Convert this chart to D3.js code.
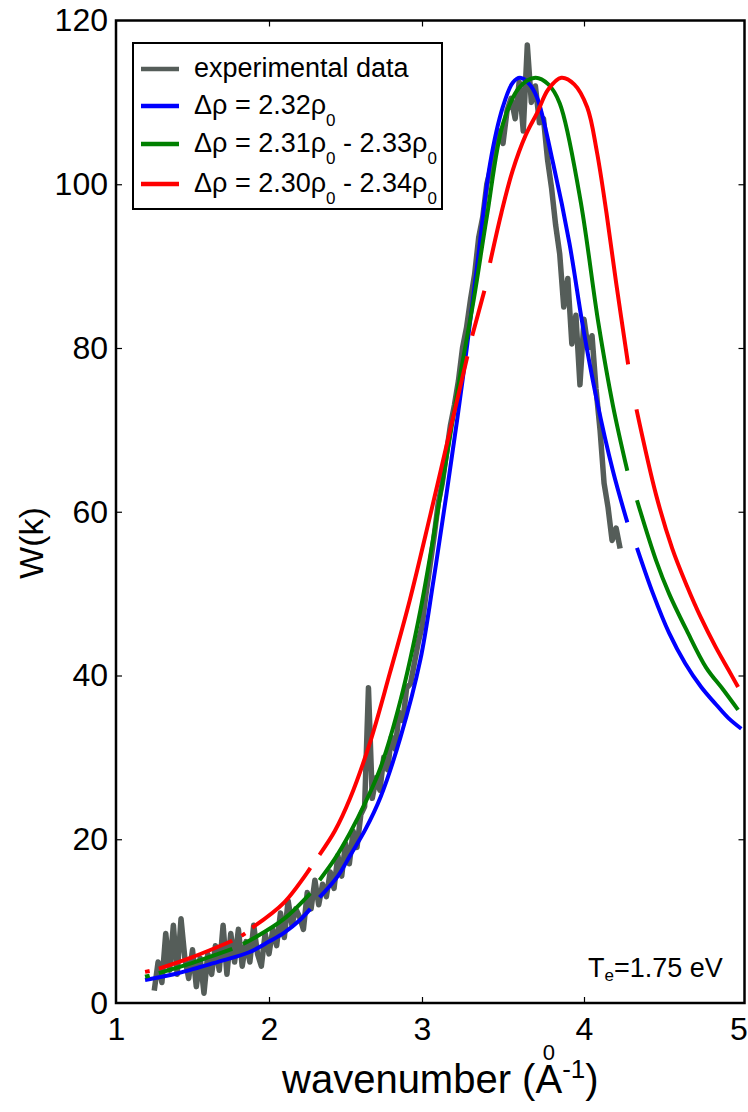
<!DOCTYPE html>
<html><head><meta charset="utf-8">
<script src="https://cdn.jsdelivr.net/npm/d3@7"></script>
<style>
body{margin:0;background:#fff;}
svg{display:block;font-family:"Liberation Sans",Arial,Helvetica,sans-serif;}
</style>
</head><body>
<svg id="c" width="748" height="1112"></svg>
<script>
// ---------- data ----------
const xTickValues = [1, 2, 3, 4, 5];
const yTickValues = [0, 20, 40, 60, 80, 100, 120];
const xTitle = "wavenumber (";
const yTitle = "W(k)";
const teLabel = ["T", "e", "=1.75 eV"];

// experimental data: W(k) sampled from k = 1.25 with step 0.025
const expStartK = 1.25, expStepK = 0.025;
const expW = [
  1.5,5.0,2.5,8.5,4.0,9.5,3.5,10.3,5.5,3.0,
  6.5,2.0,5.5,1.2,6.0,3.5,7.0,4.0,9.5,3.5,
  8.5,5.0,9.0,4.5,7.5,5.0,9.5,6.0,4.5,8.5,
  6.0,9.0,7.0,11.0,8.0,12.5,9.5,11.5,10.5,9.0,
  13.5,11.5,15.0,12.0,14.5,13.0,16.0,14.0,18.0,15.5,
  19.5,17.0,21.0,19.0,23.0,24.0,38.5,25.0,27.5,26.0,
  30.0,28.5,32.5,31.0,35.5,34.5,38.5,39.0,41.5,44.0,
  46.0,50.0,53.5,57.0,61.0,63.5,67.0,70.5,73.0,76.0,
  80.0,82.5,86.0,89.0,93.5,96.0,100.0,102.0,104.5,106.5,
  105.0,109.0,110.5,108.0,112.5,106.5,117.0,110.0,112.0,107.5,
  108.0,103.0,99.5,95.0,91.5,85.0,88.5,80.5,84.0,75.5,
  83.5,80.0,81.5,75.0,70.0,63.5,60.5,56.5,58.0,55.5
];

// fitted curves (null = break in the drawn curve)
const blueK = [1.19,1.40,1.55,1.70,1.87,2.00,2.10,2.20,2.27,null,2.33,2.45,2.53,2.63,2.73,2.86,2.99,3.07,3.15,3.25,3.34,3.42,3.50,3.56,3.605,3.66,3.71,3.81,3.91,3.99,4.08,4.18,4.27,null,4.33,4.43,4.53,4.63,4.73,4.83,4.90,4.98];
const blueW = [2.8,3.6,4.4,5.2,6.2,7.5,8.6,10.1,11.5,null,12.9,15.5,18.0,21.2,25.2,32.5,42.0,51.5,62.0,76.0,90.0,102.5,109.5,112.4,113.0,112.3,110.6,102.5,92.8,83.0,73.6,65.0,58.7,null,55.6,50.0,45.2,41.5,38.6,36.3,34.8,33.5];

const greenK = [1.19,1.22,null,1.28,1.50,1.76,null,1.83,1.90,2.10,2.27,null,2.33,2.43,2.53,2.63,2.73,2.86,2.99,3.13,3.23,3.32,3.40,3.50,3.60,3.70,3.78,3.85,3.975,4.09,4.18,4.27,null,4.33,4.45,4.53,4.64,4.76,4.87,4.96];
const greenW = [3.2,3.35,null,3.65,4.9,6.6,null,7.2,7.9,10.3,13.4,null,15.0,17.6,20.8,24.5,28.8,37.0,48.0,64.0,76.0,86.0,96.0,107.4,111.8,113.0,112.2,109.9,98.4,83.0,73.0,65.0,null,61.4,54.0,50.0,45.5,41.0,38.2,35.8];

const redK = [1.19,1.22,null,1.28,1.50,1.76,null,1.82,1.845,null,1.89,2.10,2.27,null,2.33,2.43,2.53,2.66,2.79,2.92,3.05,3.18,3.28,null,3.31,3.385,null,3.42,3.49,3.56,3.64,3.71,3.78,3.86,3.94,4.02,4.08,4.14,4.20,4.275,null,4.327,4.45,4.55,4.64,4.73,4.82,4.90,4.96];
const redW = [3.8,3.9,null,4.2,5.6,7.6,null,8.2,8.5,null,9.2,12.3,16.5,null,18.1,21.0,25.0,31.8,40.3,49.2,59.5,70.5,79.0,null,81.5,87.0,null,90.4,96.5,101.7,106.0,108.7,111.6,113.0,112.2,109.4,104.0,96.5,88.0,78.0,null,72.5,62.0,55.5,51.0,47.0,43.5,40.7,38.6];

const legendLabels = ["experimental data", "Δρ = 2.32ρ_0", "Δρ = 2.31ρ_0 - 2.33ρ_0", "Δρ = 2.30ρ_0 - 2.34ρ_0"];
const seriesColors = ["#555d59", "#0000ff", "#008000", "#ff0000"];

// ---------- chart ----------
const svg = d3.select("#c");
const L = 116, R = 744.5, T = 20.5, B = 1003;
const x = d3.scaleLinear().domain(xTickValues).range([L, 269, 422, 584, R]);
const y = d3.scaleLinear().domain([0, 120]).range([B, T]);

svg.append("defs").append("clipPath").attr("id", "plotclip")
  .append("rect").attr("x", L).attr("y", T).attr("width", R - L).attr("height", B - T);

const plot = svg.append("g").attr("clip-path", "url(#plotclip)");

const expData = expW.map((w, i) => ({k: expStartK + i * expStepK, w}));
const curves = [
  {k: blueK, w: blueW, c: seriesColors[1]},
  {k: greenK, w: greenW, c: seriesColors[2]},
  {k: redK, w: redW, c: seriesColors[3]}
];

const line = d3.line().defined(d => d.w != null).x(d => x(d.k)).y(d => y(d.w));
const smooth = d3.line().defined(d => d.w != null).x(d => x(d.k)).y(d => y(d.w)).curve(d3.curveCatmullRom.alpha(0.5));

plot.append("path").datum(expData).attr("d", line)
  .attr("fill", "none").attr("stroke", seriesColors[0]).attr("stroke-width", 5.5)
  .attr("stroke-linejoin", "round");

curves.forEach(cv => {
  const pts = cv.k.map((k, i) => ({k, w: cv.w[i]}));
  plot.append("path").datum(pts).attr("d", smooth)
    .attr("fill", "none").attr("stroke", cv.c).attr("stroke-width", 4);
});

// inner ticks on all four sides
const tickStyle = g => { g.select(".domain").remove(); g.selectAll(".tick line").attr("stroke", "#000").attr("stroke-width", 1.2); g.selectAll("text").remove(); };
svg.append("g").attr("transform", `translate(0,${B})`).call(d3.axisBottom(x).tickValues([2,3,4]).tickSize(-6)).call(tickStyle);
svg.append("g").attr("transform", `translate(0,${T})`).call(d3.axisTop(x).tickValues([2,3,4]).tickSize(-6)).call(tickStyle);
svg.append("g").attr("transform", `translate(${L},0)`).call(d3.axisLeft(y).tickValues([20,40,60,80,100]).tickSize(-6)).call(tickStyle);
svg.append("g").attr("transform", `translate(${R},0)`).call(d3.axisRight(y).tickValues([20,40,60,80,100]).tickSize(-6)).call(tickStyle);

// frame
svg.append("rect").attr("x", L).attr("y", T).attr("width", R - L).attr("height", B - T)
  .attr("fill", "none").attr("stroke", "#000").attr("stroke-width", 2.5);

// tick labels
const lab = g => { g.select(".domain").remove(); g.selectAll(".tick line").remove(); g.selectAll("text").attr("fill", "#000").attr("font-size", 32).attr("font-family", null); };
const xl = svg.append("g").attr("transform", `translate(0,${B})`)
  .call(d3.axisBottom(x).tickValues(xTickValues).tickSize(0).tickPadding(14).tickFormat(d3.format("d"))).call(lab);
xl.selectAll(".tick text").filter(d => d === 5).attr("dx", -6);
svg.append("g").attr("transform", `translate(${L},0)`)
  .call(d3.axisLeft(y).tickValues(yTickValues).tickSize(0).tickPadding(8).tickFormat(d3.format("d"))).call(lab);

// y title
svg.append("text").attr("transform", "translate(43,543) rotate(-90)")
  .attr("text-anchor", "middle").attr("font-size", 34).text(yTitle);

// x title with "A" + small 0 above + superscript -1
const xt = svg.append("text").attr("x", 282).attr("y", 1093).attr("font-size", 40);
xt.append("tspan").text(xTitle);
xt.append("tspan").text("A");
xt.append("tspan").attr("font-size", 26).attr("dy", -15).text("-1");
xt.append("tspan").attr("dy", 15).text(")");
const aIdx = xTitle.length;
const aStart = xt.node().getStartPositionOfChar(aIdx).x;
const aEnd = xt.node().getEndPositionOfChar(aIdx).x;
svg.append("text").attr("x", (aStart + aEnd) / 2).attr("y", 1060).attr("text-anchor", "middle")
  .attr("font-size", 22).text("0");

// Te annotation
const te = svg.append("text").attr("x", 588).attr("y", 977).attr("font-size", 27);
te.append("tspan").text(teLabel[0]);
te.append("tspan").attr("font-size", 17).attr("dy", 4).text(teLabel[1]);
te.append("tspan").attr("dy", -4).text(teLabel[2]);

// legend
const lg = svg.append("g");
lg.append("rect").attr("x", 133).attr("y", 43).attr("width", 309).attr("height", 166)
  .attr("fill", "#fff").attr("stroke", "#000").attr("stroke-width", 2);
const rowY = [69, 106, 144, 184];
legendLabels.forEach((s, i) => {
  lg.append("line").attr("x1", 141).attr("x2", 179).attr("y1", rowY[i]).attr("y2", rowY[i])
    .attr("stroke", seriesColors[i]).attr("stroke-width", 4.5);
  const t = lg.append("text").attr("x", 194).attr("y", rowY[i] + 8).attr("font-size", 27);
  const parts = s.split("_0");
  parts.forEach((p, j) => {
    t.append("tspan").attr("dy", j > 0 ? -12 : null).text(p);
    if (j < parts.length - 1) t.append("tspan").attr("font-size", 17).attr("dy", 12).text("0");
  });
});
</script>
</body></html>
